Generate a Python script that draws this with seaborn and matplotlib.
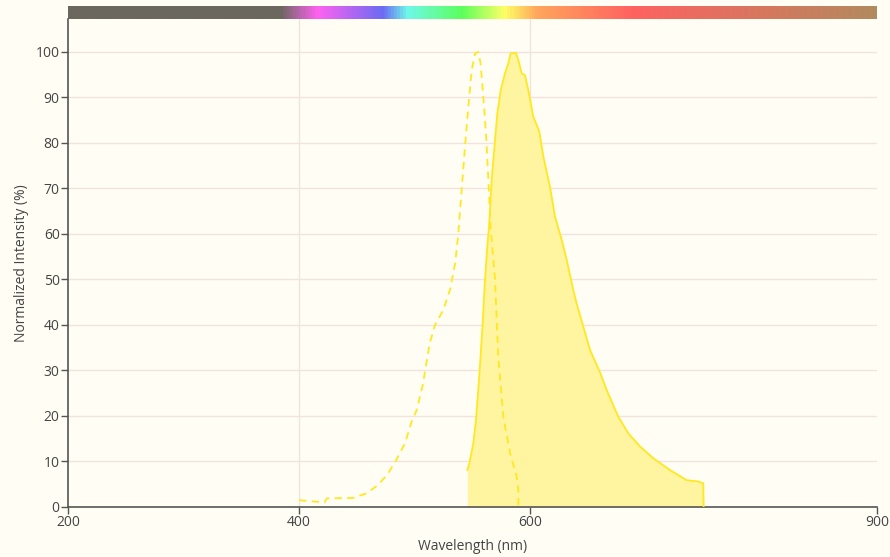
import numpy as np
import pandas as pd
import seaborn as sns
import matplotlib.pyplot as plt
from matplotlib.colors import LinearSegmentedColormap

# excitation spectrum (dashed)
ex_nm = [400, 422, 424, 447, 450, 458.5, 468, 476, 484, 491.6, 497, 501.7, 507, 509,
         513, 517.6, 524.7, 530.5, 535, 537.7, 540.6, 543.5, 546.4, 549.3, 552.2, 555,
         557, 559.4, 561.7, 563.7, 565.7, 569.5, 572.3, 576.7, 582.5, 588.2, 589.7, 589.7]
ex_val = [1.5, 1.0, 1.9, 2.0, 2.3, 3.0, 4.8, 7.0, 10.3, 14.0, 18.5, 21.3, 26.8, 30.0,
          36.0, 40.0, 43.3, 47.7, 53.6, 60.0, 69.7, 79.2, 88.0, 96.0, 99.7, 100.0,
          97.5, 90.0, 82.0, 71.9, 61.6, 49.9, 33.0, 19.8, 11.8, 6.7, 3.7, 0.0]

# emission spectrum (filled)
em_nm = [545.5, 547.3, 550.7, 553, 555, 557, 558.8, 560.8, 562.8, 564.3, 566.6, 569.5,
         571.5, 574.4, 578.1, 581, 583, 587.6, 589.7, 592.6, 595.4, 598.3, 602.6, 607.8,
         611.3, 617, 621.4, 627.2, 631.5, 637.2, 640, 645.9, 651.7, 660.3, 666.1, 676.2,
         684.8, 695, 706.5, 721, 735.3, 745.4, 749.7, 750]
em_val = [8.1, 9.6, 14.0, 19.1, 25.7, 33.0, 40.4, 49.9, 57.2, 61.6, 71.9, 80.7,
          86.5, 91.6, 95.3, 97.5, 99.7, 99.8, 98.2, 95.3, 94.9, 91.6, 85.8, 82.5,
          77.0, 70.4, 63.8, 58.7, 54.3, 47.7, 44.8, 39.6, 34.5, 29.6, 25.7, 19.8,
          16.2, 13.3, 10.7, 8.1, 5.9, 5.6, 5.2, 0.0]

# spectrum bar along the top
bar_nm = [200, 383, 415, 472, 494, 541, 578, 607, 689, 900]
bar_colors = ["#6b675e", "#6b675e", "#ff62f0", "#6c6cf4", "#6ff8e8", "#5cff5c",
              "#ffff66", "#ffa55c", "#ff6260", "#b38a5e"]

x_ticks = [200, 400, 600, 900]
y_ticks = list(range(0, 101, 10))

bg = "#fffdf4"
grid_c = "#f1e4df"
axis_c = "#555555"
text_c = "#444444"
line_c = "#ffe81f"
fill_c = "#fff4a0"

sns.set_style("white", {"axes.facecolor": bg, "figure.facecolor": bg})
plt.rcParams["font.family"] = ["Open Sans", "DejaVu Sans"]

ex = pd.DataFrame({"Wavelength": ex_nm, "Intensity": ex_val})
em = pd.DataFrame({"Wavelength": em_nm, "Intensity": em_val})

fig = plt.figure(figsize=(8.9, 5.57), dpi=100)
ax = fig.add_axes([68 / 890, 1 - 507 / 557, (877 - 68) / 890, (507 - 19) / 557])

for v in y_ticks:
    ax.axhline(v, color=grid_c, lw=1, zorder=0)
for v in [400, 600]:
    ax.axvline(v, color=grid_c, lw=1, zorder=0)

ax.fill_between(em["Wavelength"], em["Intensity"], color=fill_c, lw=0, zorder=1)
sns.lineplot(data=em, x="Wavelength", y="Intensity", ax=ax, color=line_c, lw=1.3,
             sort=False, estimator=None, zorder=3)
sns.lineplot(data=ex, x="Wavelength", y="Intensity", ax=ax, color=line_c, lw=1.3,
             sort=False, estimator=None, zorder=3)
ax.lines[-1].set_dashes([4, 3])

ax.set_xlim(200, 900)
ax.set_ylim(0, 107.25)
ax.set_xticks(x_ticks)
ax.set_yticks(y_ticks)
ax.set_xlabel("Wavelength (nm)", fontsize=10, color=text_c, labelpad=6)
ax.set_ylabel("Normalized Intensity (%)", fontsize=10, color=text_c, labelpad=5)
ax.tick_params(axis="both", length=5, width=1, color=axis_c, labelcolor=text_c,
               labelsize=10, pad=1, direction="out", bottom=True, left=True)
for side in ["top", "right"]:
    ax.spines[side].set_visible(False)
for side in ["left", "bottom"]:
    ax.spines[side].set_color(axis_c)
    ax.spines[side].set_linewidth(1.2)

# gradient bar
pos = [(n - 200) / 700 for n in bar_nm]
cmap = LinearSegmentedColormap.from_list("spec", list(zip(pos, bar_colors)))
bax = fig.add_axes([68 / 890, 1 - 19 / 557, (877 - 68) / 890, 13 / 557])
bax.imshow(np.linspace(0, 1, 800).reshape(1, -1), aspect="auto", cmap=cmap,
           extent=[200, 900, 0, 1])
bax.set_axis_off()

fig.savefig("out.png", dpi=100, facecolor=bg)
